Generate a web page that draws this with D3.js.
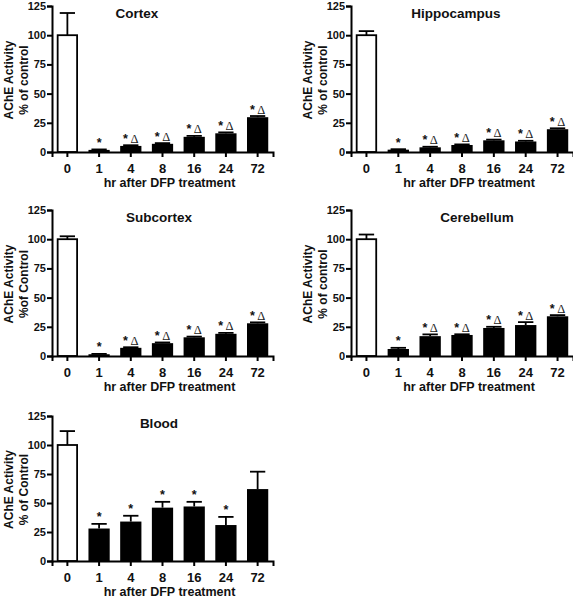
<!DOCTYPE html>
<html>
<head>
<meta charset="utf-8">
<script src="https://cdn.jsdelivr.net/npm/d3@7/dist/d3.min.js"></script>
<style>
  html, body { margin: 0; padding: 0; background: #fff; }
  svg { display: block; }
  text { font-family: "Liberation Sans", Arial, sans-serif; fill: #111; }
</style>
</head>
<body>
<svg id="chart" width="573" height="600"></svg>
<script>
// ---------- DATA ----------
const hours = ["0", "1", "4", "8", "16", "24", "72"];
const yTicks = [0, 25, 50, 75, 100, 125];

const cortexMean = [100, 1.8, 5.2, 7, 13, 16, 29.8];
const cortexErr  = [19, 0.4, 0.6, 0.6, 0.8, 0.8, 1];
const cortexMarks = ["", "*", "*Δ", "*Δ", "*Δ", "*Δ", "*Δ"];

const hippoMean = [100, 2, 4, 6, 10, 9, 19.5];
const hippoErr  = [3.5, 0.4, 0.5, 0.5, 0.6, 0.6, 0.8];
const hippoMarks = ["", "*", "*Δ", "*Δ", "*Δ", "*Δ", "*Δ"];

const subMean = [100, 1.5, 7, 11, 16, 19, 28];
const subErr  = [2.5, 0.3, 0.5, 0.6, 0.6, 0.8, 0.8];
const subMarks = ["", "*", "*Δ", "*Δ", "*Δ", "*Δ", "*Δ"];

const cereMean = [100, 6, 17, 18, 24, 26.5, 34];
const cereErr  = [4, 1, 1.5, 0.6, 1, 2.5, 1];
const cereMarks = ["", "*", "*Δ", "*Δ", "*Δ", "*Δ", "*Δ"];

const bloodMean = [100, 28, 34, 46, 47, 31, 62];
const bloodErr  = [12, 4, 5, 5, 4, 7, 15];
const bloodMarks = ["", "*", "*", "*", "*", "*", ""];

const titles = ["Cortex", "Hippocampus", "Subcortex", "Cerebellum", "Blood"];
const yLine1 = "AChE Activity";
const yLine2 = ["% of control", "% of control", "%of Control", "% of control", "% of Control"];
const xTitle = "hr after DFP treatment";

// ---------- LAYOUT ----------
const panels = [
  { mean: cortexMean, err: cortexErr, marks: cortexMarks, x0: 52,  x1: 273, y0: 152, y1: 6 },
  { mean: hippoMean,  err: hippoErr,  marks: hippoMarks,  x0: 351, x1: 573, y0: 152, y1: 6 },
  { mean: subMean,    err: subErr,    marks: subMarks,    x0: 52,  x1: 273, y0: 356, y1: 210 },
  { mean: cereMean,   err: cereErr,   marks: cereMarks,   x0: 351, x1: 573, y0: 356, y1: 210 },
  { mean: bloodMean,  err: bloodErr,  marks: bloodMarks,  x0: 52,  x1: 273, y0: 561, y1: 416 }
];

const svg = d3.select("#chart");

panels.forEach((p, i) => {
  const g = svg.append("g");
  const x = d3.scaleBand().domain(hours).range([p.x0, p.x1])
    .paddingInner(0.33).paddingOuter(0.15);
  const y = d3.scaleLinear().domain([0, 125]).range([p.y0, p.y1]);
  const bw = x.bandwidth();
  const capW = bw * 0.72;

  const rows = hours.map((h, k) => ({ h, v: p.mean[k], e: p.err[k], m: p.marks[k], k }));

  // error bars (upward only)
  const eg = g.append("g").attr("stroke", "#000").attr("stroke-width", 1.8);
  rows.forEach(d => {
    const cx = x(d.h) + bw / 2;
    eg.append("line").attr("x1", cx).attr("x2", cx).attr("y1", y(d.v)).attr("y2", y(d.v + d.e));
    eg.append("line").attr("x1", cx - capW / 2).attr("x2", cx + capW / 2)
      .attr("y1", y(d.v + d.e)).attr("y2", y(d.v + d.e));
  });

  // bars
  g.append("g").selectAll("rect").data(rows).join("rect")
    .attr("x", d => x(d.h) + (d.k === 0 ? 0.9 : 0))
    .attr("width", d => bw - (d.k === 0 ? 1.8 : 0))
    .attr("y", d => y(d.v))
    .attr("height", d => y(0) - y(d.v))
    .attr("fill", d => d.k === 0 ? "#fff" : "#000")
    .attr("stroke", "#000")
    .attr("stroke-width", d => d.k === 0 ? 1.8 : 0);

  // significance marks
  rows.filter(d => d.m).forEach(d => {
    const cx = x(d.h) + bw / 2;
    const t = g.append("text").attr("x", cx).attr("y", y(d.v + d.e) - 2.5)
      .attr("text-anchor", "middle");
    t.append("tspan").text("*").attr("font-size", 12.5).attr("font-weight", "bold");
    if (d.m.includes("Δ")) {
      t.append("tspan").text("\u2009Δ").attr("font-size", 12.5)
        .attr("font-family", "'Liberation Serif', serif").style("fill", "#222");
    }
  });

  // axes
  const ax = g.append("g").attr("transform", `translate(0,${p.y0})`)
    .call(d3.axisBottom(x).tickSizeOuter(0).tickSize(5).tickPadding(7));
  const ay = g.append("g").attr("transform", `translate(${p.x0},0)`)
    .call(d3.axisLeft(y).tickValues(yTicks).tickSizeOuter(0).tickSize(5).tickPadding(1));
  [ax, ay].forEach(a => {
    a.select(".domain").attr("stroke", "#000").attr("stroke-width", 2);
    a.selectAll(".tick line").attr("stroke", "#000").attr("stroke-width", 2);
    a.selectAll(".tick text").attr("font-family", "'Liberation Sans', Arial, sans-serif")
      .attr("font-size", 11).attr("font-weight", "bold").attr("fill", "#111");
  });
  ax.selectAll(".tick text").attr("font-size", 13);

  // title
  const tx = [137, 456, 159, 477, 159][i];
  g.append("text").attr("x", tx).attr("y", p.y1 + 12)
    .attr("text-anchor", "middle").attr("font-size", 13.5).attr("font-weight", "bold")
    .text(titles[i]);

  // x title
  g.append("text").attr("x", (p.x0 + p.x1) / 2 + 7).attr("y", p.y0 + 35)
    .attr("text-anchor", "middle").attr("font-size", 12.5).attr("font-weight", "bold")
    .text(xTitle);

  // y title (two lines)
  const cy = (p.y0 + p.y1) / 2 + 1;
  const lx = p.x0 - 39;
  const yt = g.append("text").attr("transform", `translate(${lx},${cy}) rotate(-90)`)
    .attr("text-anchor", "middle").attr("font-size", 12).attr("font-weight", "bold");
  yt.append("tspan").attr("x", 0).attr("y", 0).text(yLine1);
  yt.append("tspan").attr("x", 0).attr("y", 15).text(yLine2[i]);
});
</script>
</body>
</html>
